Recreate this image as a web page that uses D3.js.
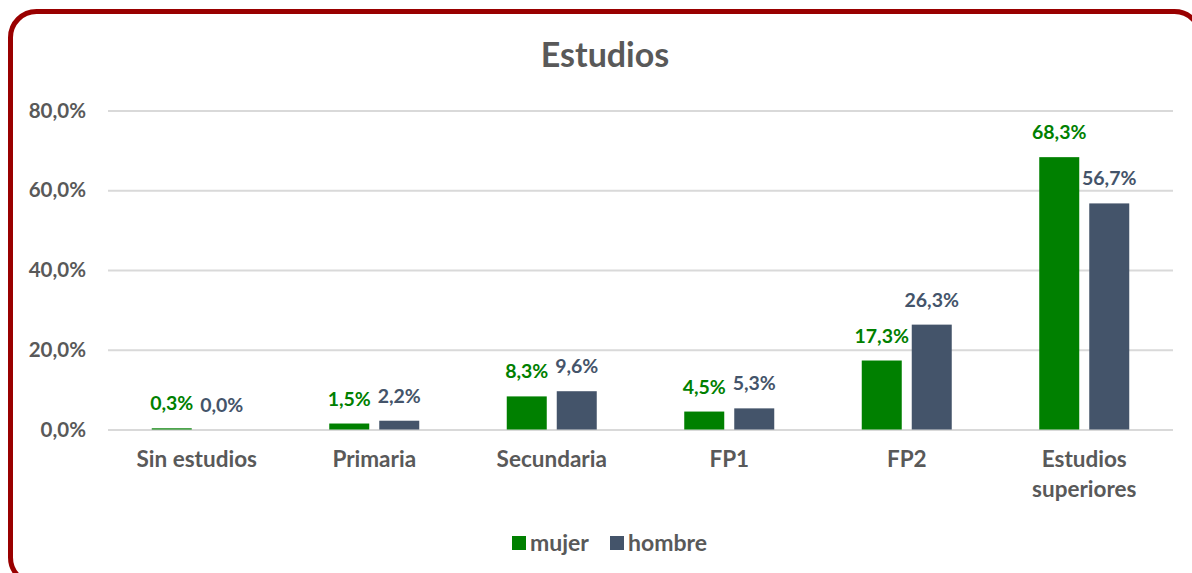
<!DOCTYPE html>
<html>
<head>
<meta charset="utf-8">
<script src="https://cdn.jsdelivr.net/npm/d3@7"></script>
<style>
  body { margin: 0; background: #fff; }
  svg text { font-family: Lato, "Noto Sans", sans-serif; font-weight: bold; }
</style>
</head>
<body>
<script>
// data
var categories = ["Sin estudios", "Primaria", "Secundaria", "FP1", "FP2", "Estudios superiores"];
var mujer = [0.3, 1.5, 8.3, 4.5, 17.3, 68.3];
var hombre = [0.0, 2.2, 9.6, 5.3, 26.3, 56.7];
var yTicks = [0, 20, 40, 60, 80];
var seriesNames = ["mujer", "hombre"];
var colors = ["#008000", "#44546a"];

var W = 1192, H = 573;
var margin = { top: 110, right: 20, bottom: 144, left: 108 },
    width = 1173 - margin.left,
    height = H - margin.top - margin.bottom;

var svg = d3.select("body").append("svg")
    .attr("width", W)
    .attr("height", H);

// rounded border
svg.append("rect")
    .attr("x", 10.5).attr("y", 11.5)
    .attr("width", 1190).attr("height", 572)
    .attr("rx", 26)
    .attr("fill", "#fff")
    .attr("stroke", "#990000")
    .attr("stroke-width", 5);

svg.append("text")
    .attr("x", 605).attr("y", 67)
    .attr("text-anchor", "middle")
    .style("font-size", "34px")
    .style("fill", "#595959")
    .text("Estudios");

var g = svg.append("g")
    .attr("transform", "translate(" + margin.left + "," + margin.top + ")");

var x0 = d3.scaleBand().domain(categories).range([0, width]).padding(0);
var x1 = d3.scaleBand().domain(seriesNames).range([x0.bandwidth() / 2 - 45, x0.bandwidth() / 2 + 45]).paddingInner(0.2);
var y = d3.scaleLinear().domain([0, 80]).range([height + 0.5, 0.5]);

var fmt = function (v) { return d3.format(".1f")(v).replace(".", ",") + "%"; };

// gridlines + y labels
var yAxis = g.append("g")
    .call(d3.axisLeft(y).tickValues(yTicks).tickSize(-width).tickFormat(fmt).tickPadding(22));
yAxis.select(".domain").remove();
yAxis.selectAll(".tick line").attr("stroke", "#d9d9d9").attr("stroke-width", 2);
yAxis.selectAll(".tick text")
    .style("font-size", "20.5px")
    .style("fill", "#595959")
    .attr("font-family", null)
    .attr("font-size", null);

// category labels
g.selectAll(".cat")
    .data(categories)
    .enter().append("text")
    .attr("class", "cat")
    .attr("text-anchor", "middle")
    .attr("x", function (d) { return x0(d) + x0.bandwidth() / 2; })
    .attr("y", height + 38)
    .style("font-size", "22.5px")
    .style("fill", "#595959")
    .each(function (d) {
        var words = d === "Estudios superiores" ? ["Estudios", "superiores"] : [d];
        var t = d3.select(this);
        words.forEach(function (w, i) {
            t.append("tspan")
                .attr("x", x0(d) + x0.bandwidth() / 2)
                .attr("dy", i === 0 ? 0 : 30)
                .text(w);
        });
    });

var rows = categories.map(function (c, i) {
    return { cat: c, vals: [{ s: "mujer", v: mujer[i], c: colors[0] }, { s: "hombre", v: hombre[i], c: colors[1] }] };
});

var groups = g.selectAll(".grp")
    .data(rows)
    .enter().append("g")
    .attr("transform", function (d) { return "translate(" + x0(d.cat) + ",0)"; });

groups.selectAll("rect")
    .data(function (d) { return d.vals; })
    .enter().append("rect")
    .attr("x", function (d) { return x1(d.s); })
    .attr("y", function (d) { return y(d.v); })
    .attr("width", x1.bandwidth())
    .attr("height", function (d) { return y(0) - y(d.v); })
    .attr("fill", function (d) { return d.c; });

groups.selectAll(".lbl")
    .data(function (d) { return d.vals; })
    .enter().append("text")
    .attr("class", "lbl")
    .attr("text-anchor", "middle")
    .attr("x", function (d) { return x1(d.s) + x1.bandwidth() / 2; })
    .attr("y", function (d) { return y(d.v) - 18; })
    .style("font-size", "19.5px")
    .style("fill", function (d) { return d.c; })
    .text(function (d) { return fmt(d.v); });

// legend
var legend = svg.append("g").attr("transform", "translate(512,536)");
var items = legend.selectAll(".leg")
    .data(seriesNames)
    .enter().append("g")
    .attr("transform", function (d, i) { return "translate(" + (i * 98) + ",0)"; });
items.append("rect")
    .attr("width", 14).attr("height", 14)
    .attr("fill", function (d, i) { return colors[i]; });
items.append("text")
    .attr("x", 18).attr("y", 15)
    .style("font-size", "23px")
    .style("fill", "#595959")
    .text(function (d) { return d; });
</script>
</body>
</html>
